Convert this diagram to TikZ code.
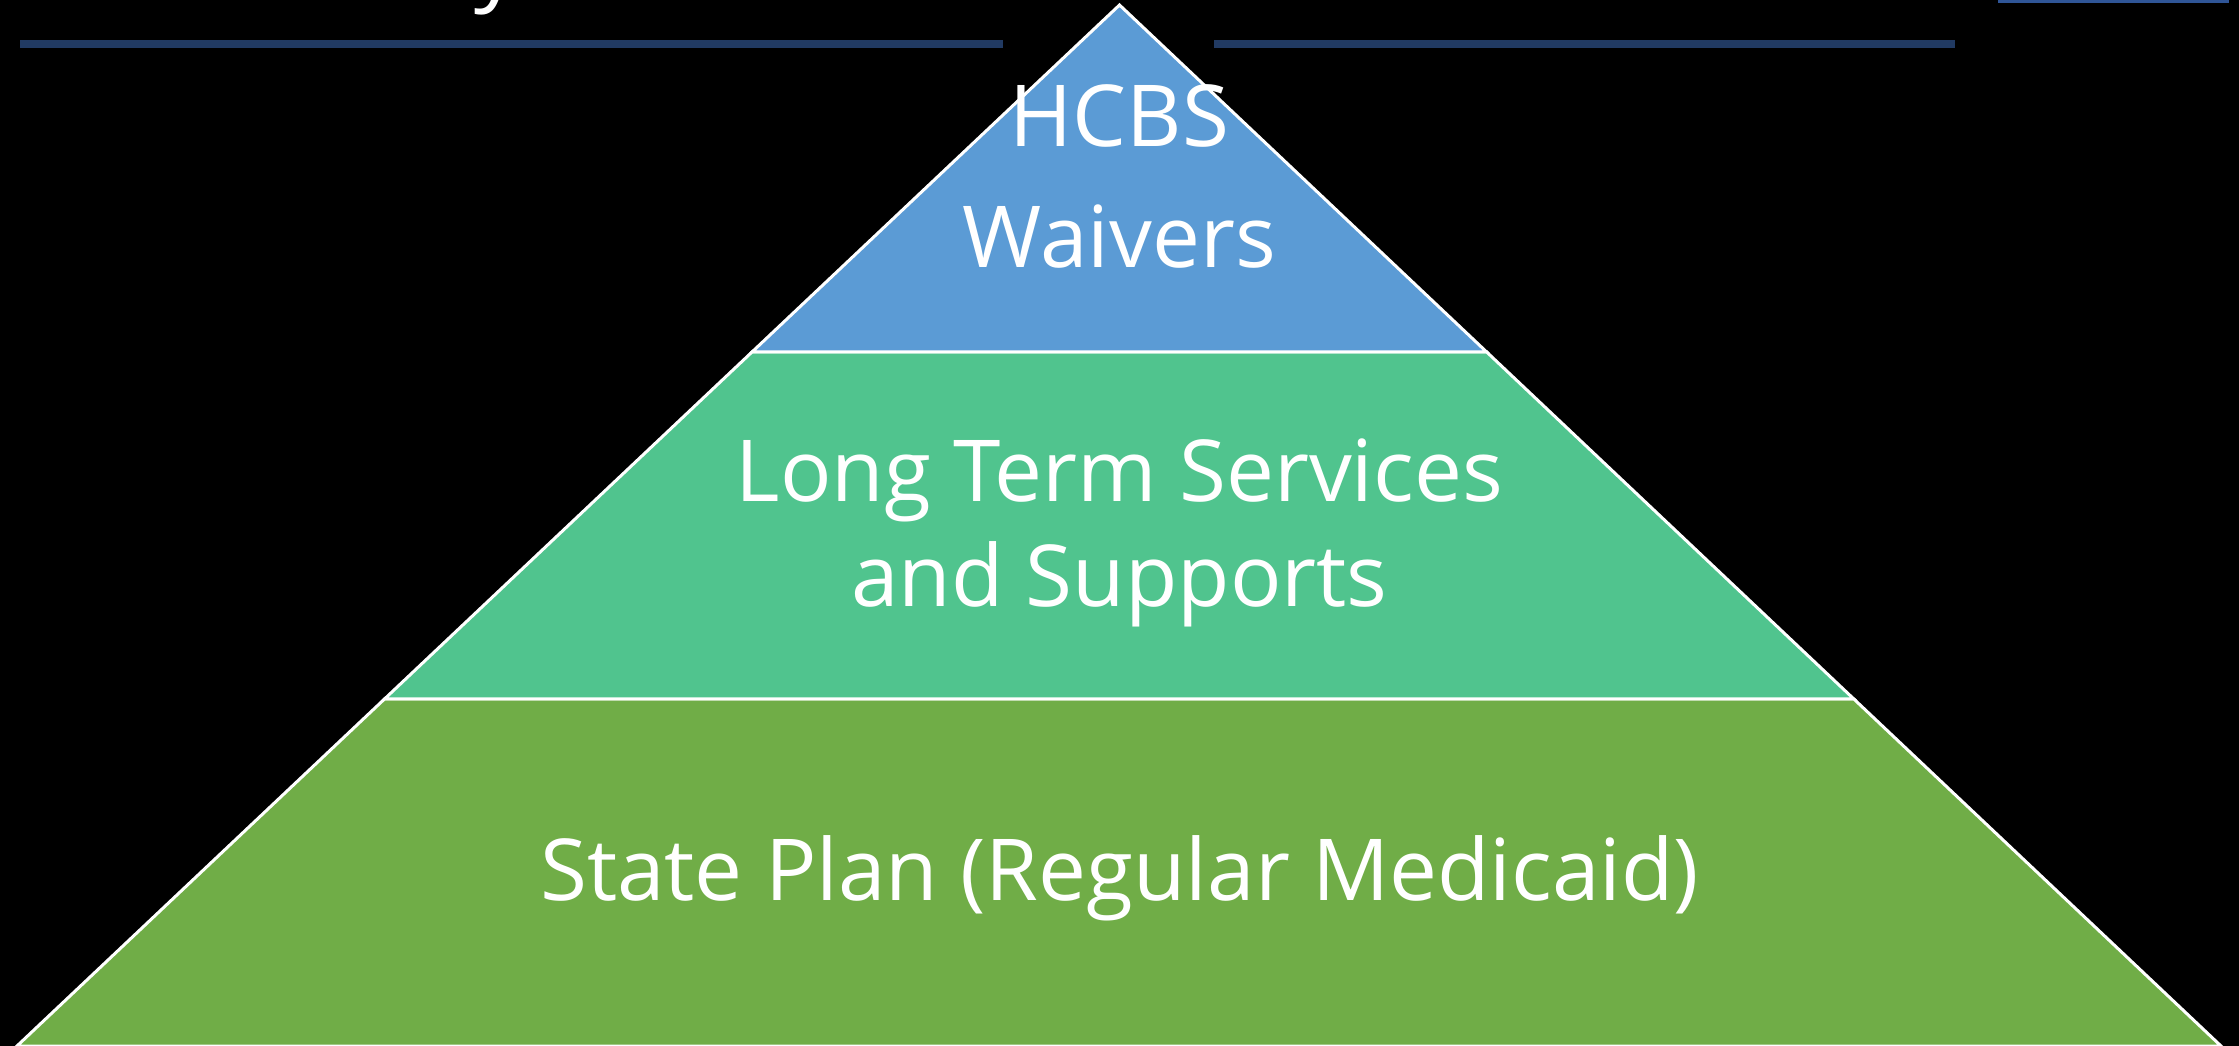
\documentclass[tikz,border=0pt]{standalone}
\usepackage{fontspec}
\setmainfont{Open Sans}
\usetikzlibrary{calc}
\definecolor{tierblue}{HTML}{5B9BD5}
\definecolor{tiergreen}{HTML}{50C48E}
\definecolor{tierolive}{HTML}{70AD47}
\definecolor{rulenavy}{HTML}{213A62}
\definecolor{barblue}{HTML}{2F5597}
\tikzset{
	>=latex,
}
\begin{document}
\begin{tikzpicture}[
		x=1pt, y=-1pt,
		tier/.style={draw=white, line width=3pt, line join=miter},
		tiertext/.style={
			text=white, inner sep=0pt, align=center,
			font=\fontsize{85.5}{#1}\selectfont,
		},
		navyrule/.style={rulenavy, line width=8pt},
	]
	\fill[black] (0,0) rectangle (2239,1046);
	\useasboundingbox (0,0) rectangle (2239,1046);
	\clip (0,0) rectangle (2239,1046);
	% pyramid corners and the two cut lines
	\coordinate (apex) at (1119.5,5);
	\coordinate (bl) at (17,1046);
	\coordinate (br) at (2221,1046);
	\coordinate (l1) at ($(apex)!1/3!(bl)$);
	\coordinate (r1) at ($(apex)!1/3!(br)$);
	\coordinate (l2) at ($(apex)!2/3!(bl)$);
	\coordinate (r2) at ($(apex)!2/3!(br)$);
	\filldraw[tier, fill=tierolive] (l2) -- (r2) -- (br) -- (bl) -- cycle;
	\filldraw[tier, fill=tiergreen] (l1) -- (r1) -- (r2) -- (l2) -- cycle;
	\filldraw[tier, fill=tierblue] (apex) -- (r1) -- (l1) -- cycle;
	% title remains and rules
	\node[text=white, inner sep=0pt, anchor=base west,
		font=\fontsize{90}{90}\selectfont] (title) at (474,-6) {y};
	\draw[navyrule] (20,44) -- (1003,44);
	\draw[navyrule] (1214,44) -- (1955,44);
	\fill[barblue] (1998,0) rectangle (2229,3);
	% tier labels (base = last line)
	\node[tiertext=121, anchor=base] (hcbs) at (1119.5,267) {HCBS\\Waivers};
	\node[tiertext=105, anchor=base] (ltss) at (1119.5,606) {Long Term Services\\and Supports};
	\node[tiertext=105, anchor=base] (plan) at (1119.5,900) {State Plan (Regular Medicaid)};
\end{tikzpicture}
\end{document}
